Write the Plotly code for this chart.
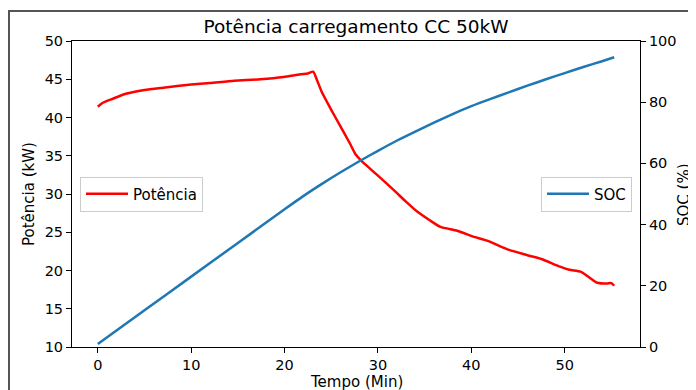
import plotly.graph_objects as go

# Power (kW) vs time (min)
t_power = [0, 0.5, 1.5, 3, 5, 7, 10, 12, 14.6, 17.4, 19.9, 21.7, 22.5, 23.06, 23.5, 24.0,
           25.0, 26.0, 27.0, 27.6, 28.1, 28.8, 30, 31.7, 33, 34.2, 35.5, 36.7, 38.5, 40.3, 41.7,
           43.8, 46, 47.5, 49.5, 50.5, 51.7, 52.4, 53.5, 54.5, 55.0, 55.3]
power = [41.4, 41.9, 42.4, 43.1, 43.6, 43.9, 44.3, 44.5, 44.8, 45.0, 45.3, 45.65, 45.75, 45.99, 44.8, 43.3,
         41.0, 38.8, 36.6, 35.2, 34.5, 33.7, 32.4, 30.5, 29.0, 27.7, 26.6, 25.7, 25.2, 24.4, 23.9,
         22.8, 22.0, 21.5, 20.5, 20.1, 19.85, 19.3, 18.4, 18.3, 18.35, 18.0]

# State of charge (%) vs time (min)
t_soc = [0, 5, 10, 15, 20, 22, 24, 26, 28, 30, 32, 34, 36, 38, 40, 42, 44, 46, 48, 50, 52, 54, 55.3]
soc = [1, 12, 23, 34, 45, 49.3, 53.3, 57.1, 60.7, 64.1, 67.4, 70.4, 73.3, 76.1, 78.7, 81.0,
       83.2, 85.4, 87.5, 89.5, 91.5, 93.4, 94.7]

x_ticks = [0, 10, 20, 30, 40, 50]
y1_ticks = [10, 15, 20, 25, 30, 35, 40, 45, 50]
y2_ticks = [0, 20, 40, 60, 80, 100]

FONT = "DejaVu Sans"
FS = 15          # small text size
OFF = 8                      # page body margin offset
W, H = 696 - OFF, 390 - OFF  # figure size so that it fits the window
L, R, T, B = 72, 640, 41, 347  # plot area in window pixels
PW, PH = R - L, B - T

fig = go.Figure()
fig.add_trace(go.Scatter(x=t_power, y=power, mode="lines", name="Potência",
                         line=dict(color="#ff0000", width=2.5, shape="spline", smoothing=0.6),
                         yaxis="y", legend="legend"))
fig.add_trace(go.Scatter(x=t_soc, y=soc, mode="lines", name="SOC",
                         line=dict(color="#1f77b4", width=2.5, shape="spline", smoothing=0.6),
                         yaxis="y2", legend="legend2"))

axis_common = dict(showgrid=False, zeroline=False, showline=True, linecolor="black", linewidth=1,
                   ticks="outside", ticklen=5, tickcolor="black", tickwidth=1, automargin=False,
                   tickfont=dict(family=FONT, size=14.5, color="black"))

fig.update_layout(
    width=W, height=H,
    margin=dict(l=L - OFF, r=W - (R - OFF), t=T - OFF, b=H - (B - OFF)),
    paper_bgcolor="white", plot_bgcolor="white",
    font=dict(family=FONT, color="black"),
    title=dict(text="Potência carregamento CC 50kW", x=0.5, xref="paper", xanchor="center",
               y=1 - (27 - OFF) / H, yref="container", yanchor="middle",
               font=dict(family=FONT, size=18.5, color="black")),
    xaxis=dict(range=[-2.765, 58.065], tickvals=x_ticks, mirror=True, **axis_common),
    yaxis=dict(range=[10, 50], tickvals=y1_ticks, **axis_common),
    yaxis2=dict(range=[0, 100], tickvals=y2_ticks, overlaying="y", side="right", **axis_common),
    legend=dict(x=(80 - L) / PW, y=(B - 194) / PH, xanchor="left", yanchor="middle",
                bgcolor="white", bordercolor="#cccccc", borderwidth=1, itemwidth=42,
                font=dict(family=FONT, size=FS, color="black")),
    legend2=dict(x=(632 - L) / PW, y=(B - 194) / PH, xanchor="right", yanchor="middle",
                 bgcolor="white", bordercolor="#cccccc", borderwidth=1, itemwidth=42,
                 font=dict(family=FONT, size=FS, color="black")),
    showlegend=True,
)

# axis titles
fig.add_annotation(text="Tempo (Min)", xref="paper", yref="paper", x=0.5, y=(B - 381.5) / PH,
                   xanchor="center", yanchor="middle", showarrow=False,
                   font=dict(family=FONT, size=FS, color="black"))
fig.add_annotation(text="Potência (kW)", xref="paper", yref="paper", x=(29 - L) / PW, y=0.5,
                   xanchor="center", yanchor="middle", textangle=-90, showarrow=False,
                   font=dict(family=FONT, size=FS, color="black"))
fig.add_annotation(text="SOC (%)", xref="paper", yref="paper", x=(684 - L) / PW, y=0.5,
                   xanchor="center", yanchor="middle", textangle=-90, showarrow=False,
                   font=dict(family=FONT, size=FS, color="black"))

# outer frame of the original image (partially cropped)
fig.add_shape(type="rect", xref="paper", yref="paper",
              x0=(9 - L) / PW, x1=1.3, y0=-0.3, y1=(B - 11) / PH,
              line=dict(color="#555555", width=2), layer="below")

fig.write_html("out.html")
